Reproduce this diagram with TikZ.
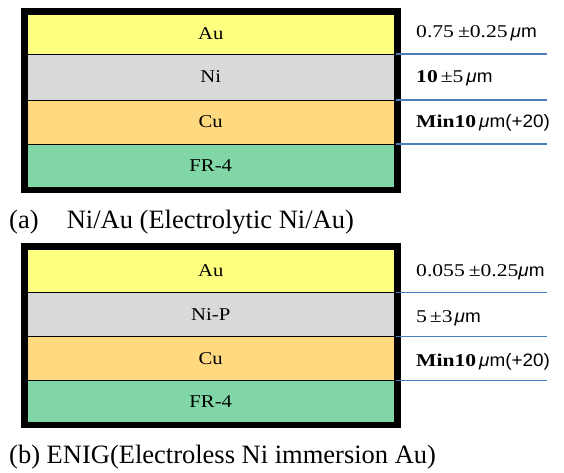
\documentclass[tikz,border=0pt]{standalone}
\usepackage{fontspec}
\setmainfont{Liberation Serif}
\newfontfamily\labfont[FakeStretch=1.2]{Liberation Serif}
\newfontfamily\unitfont[FakeStretch=1.05]{Liberation Sans}
\newfontfamily\layfont[FakeStretch=1.15]{Liberation Serif}
\newcommand{\um}{{\unitfont\itshape μ\upshape m}}
\definecolor{auY}{RGB}{255,255,128}
\definecolor{niG}{RGB}{217,217,217}
\definecolor{cuO}{RGB}{255,217,128}
\definecolor{frG}{RGB}{128,214,166}
\definecolor{lineB}{RGB}{74,126,187}
\begin{document}
\begin{tikzpicture}[x=1pt,y=-1pt,
  layer/.style={draw=black, line width=1pt, minimum width=367.5pt, inner sep=0pt, outer sep=0pt,
    font=\layfont\fontsize{18}{20}\selectfont, anchor=north west},
  frame/.style={draw=black, line width=6pt},
  val/.style={anchor=base west, inner sep=0pt, font=\labfont\fontsize{18}{20}\selectfont},
  captext/.style={anchor=base west, inner sep=0pt, font=\fontsize{26.5}{30}\selectfont},
  bline/.style={draw=lineB, line width=1.4pt}]
\useasboundingbox (0,0) rectangle (564,472);
% ---------- (a) ----------
\node[layer, fill=auY, minimum height=40pt] (au1) at (27,14) {Au};
\node[layer, fill=niG, minimum height=46pt] (ni1) at (au1.south west) {Ni};
\node[layer, fill=cuO, minimum height=44pt] (cu1) at (ni1.south west) {Cu};
\node[layer, fill=frG, minimum height=43pt] (fr1) at (cu1.south west) {FR-4};
\draw[frame] (24,11) rectangle (397.5,190);
\draw[bline] ([xshift=1pt]au1.south east) -- ++(151,0);
\draw[bline] ([xshift=1pt]ni1.south east) -- ++(151,0);
\draw[bline] ([xshift=1pt]cu1.south east) -- ++(151,0);
\node[val] (v1) at (416,37.8) {0.75\hspace{4pt}±0.25\hspace{3pt}\um};
\node[val] (v2) at (416,82) {{\bfseries 10}\hspace{3pt}±5\hspace{3pt}\um};
\node[val] (v3) at (416,127.8) {{\bfseries Min10}\hspace{3pt}\um{\unitfont(+20)}};
\node[captext] (ca1) at (9,228) {(a)};
\node[captext] (ca2) at (66.6,228) {Ni/Au (Electrolytic Ni/Au)};
% ---------- (b) ----------
\node[layer, fill=auY, minimum height=43.5pt] (au2) at (27,249) {Au};
\node[layer, fill=niG, minimum height=44pt] (ni2) at (au2.south west) {Ni-P};
\node[layer, fill=cuO, minimum height=44pt] (cu2) at (ni2.south west) {Cu};
\node[layer, fill=frG, minimum height=41.5pt] (fr2) at (cu2.south west) {FR-4};
\draw[frame] (24,246) rectangle (397.5,425);
\draw[bline] ([xshift=1pt]au2.south east) -- ++(151,0);
\draw[bline] ([xshift=1pt]ni2.south east) -- ++(151,0);
\draw[bline] ([xshift=1pt]cu2.south east) -- ++(151,0);
\node[val] (v4) at (416,276) {0.055\hspace{4pt}±0.25\um};
\node[val] (v5) at (416,322.7) {5\hspace{3pt}±3\hspace{2pt}\um};
\node[val] (v6) at (416,366) {{\bfseries Min10}\hspace{3pt}\um{\unitfont(+20)}};
\node[captext] (cb) at (9,463) {(b) ENIG(Electroless Ni immersion Au)};
\end{tikzpicture}
\end{document}
